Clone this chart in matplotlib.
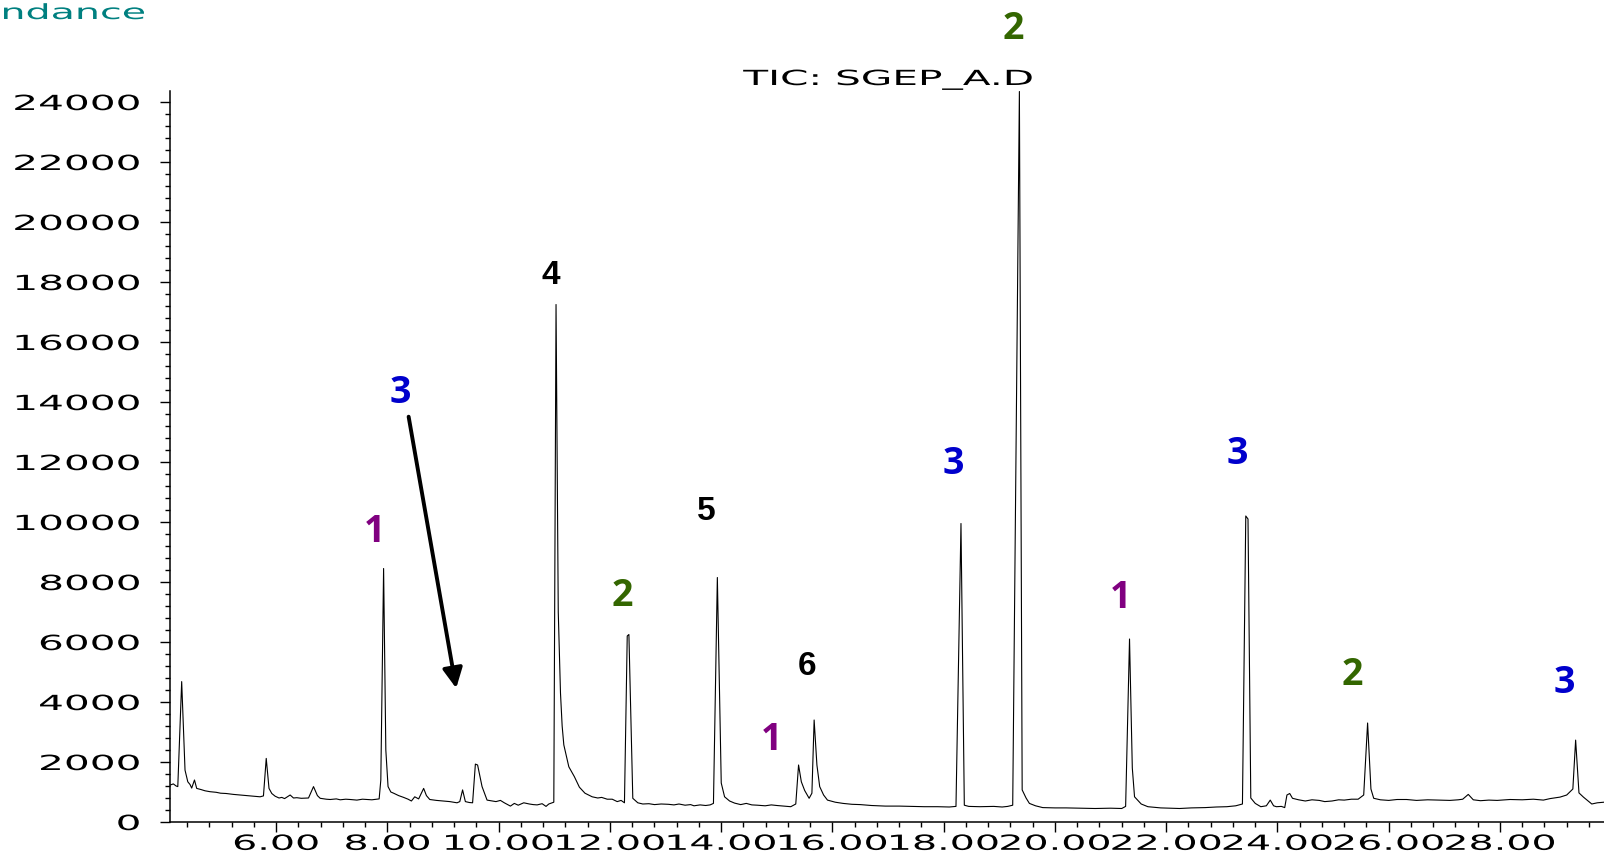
import matplotlib
matplotlib.use("Agg")
import matplotlib.pyplot as plt
from matplotlib.patheffects import AbstractPathEffect
from matplotlib.transforms import Affine2D
from matplotlib.ticker import MultipleLocator, FormatStrFormatter

# retention time (min) and abundance of the TIC trace
rt = [4.09, 4.15, 4.20, 4.23, 4.30, 4.36, 4.41, 4.45, 4.48, 4.53, 4.57, 4.65, 4.72, 4.81,
      4.92, 5.00, 5.10, 5.23, 5.35, 5.48, 5.60, 5.71, 5.77, 5.82, 5.87, 5.92, 5.98, 6.05,
      6.10, 6.15, 6.25, 6.31, 6.37, 6.45, 6.58, 6.67, 6.74, 6.79, 6.90, 6.97, 7.08, 7.15,
      7.25, 7.33, 7.45, 7.55, 7.63, 7.72, 7.80, 7.85, 7.88, 7.93, 7.97, 8.01, 8.06, 8.11,
      8.20, 8.29, 8.37, 8.43, 8.49, 8.56, 8.65, 8.70, 8.76, 8.88, 9.01, 9.12, 9.25, 9.30,
      9.35, 9.40, 9.47, 9.53, 9.58, 9.62, 9.70, 9.79, 9.88, 9.95, 10.03, 10.10, 10.21,
      10.28, 10.35, 10.45, 10.55, 10.62, 10.69, 10.78, 10.85, 10.90, 10.99, 11.03, 11.07,
      11.11, 11.14, 11.17, 11.26, 11.36, 11.45, 11.55, 11.68, 11.78, 11.85, 11.95, 12.04,
      12.13, 12.20, 12.26, 12.31, 12.34, 12.41, 12.50, 12.59, 12.70, 12.80, 12.92, 13.05,
      13.15, 13.24, 13.35, 13.45, 13.51, 13.62, 13.72, 13.80, 13.86, 13.93, 14.00, 14.06,
      14.15, 14.24, 14.35, 14.45, 14.55, 14.65, 14.79, 14.90, 15.00, 15.12, 15.25, 15.34,
      15.39, 15.44, 15.50, 15.58, 15.63, 15.67, 15.72, 15.77, 15.84, 15.91, 16.05, 16.19,
      16.35, 16.50, 16.70, 16.95, 17.20, 17.40, 17.65, 17.89, 18.10, 18.22, 18.31, 18.37,
      18.45, 18.65, 18.90, 19.05, 19.15, 19.24, 19.36, 19.41, 19.48, 19.54, 19.65, 19.78,
      20.00, 20.20, 20.45, 20.72, 21.00, 21.20, 21.27, 21.34, 21.39, 21.43, 21.55, 21.67,
      21.90, 22.10, 22.24, 22.45, 22.70, 22.90, 23.09, 23.25, 23.37, 23.43, 23.47, 23.52,
      23.60, 23.70, 23.80, 23.87, 23.93, 23.98, 24.07, 24.13, 24.17, 24.22, 24.27, 24.38,
      24.50, 24.62, 24.75, 24.85, 24.98, 25.10, 25.20, 25.33, 25.45, 25.55, 25.62, 25.68,
      25.73, 25.85, 26.00, 26.15, 26.32, 26.50, 26.70, 26.90, 27.10, 27.25, 27.33, 27.43,
      27.52, 27.65, 27.80, 27.95, 28.18, 28.40, 28.60, 28.78, 28.90, 29.08, 29.20, 29.27,
      29.31, 29.36, 29.42, 29.50, 29.65, 29.75, 29.87]
abund = [1230, 1270, 1200, 1180, 4680, 1730, 1340, 1250, 1130, 1400, 1120, 1080, 1040, 1010,
         990, 960, 950, 920, 900, 880, 860, 840, 870, 2120, 1120, 950, 860, 800,
         820, 780, 900, 800, 810, 790, 800, 1180, 880, 790, 760, 750, 770, 740,
         760, 750, 730, 760, 750, 740, 760, 770, 1400, 8450, 2400, 1180, 1000, 960,
         880, 820, 760, 700, 840, 770, 1120, 880, 750, 720, 700, 680, 640, 680,
         1070, 680, 650, 640, 1930, 1900, 1180, 730, 700, 680, 720, 640, 530,
         620, 560, 640, 600, 580, 570, 610, 520, 600, 660, 17250, 7000,
         4300, 3200, 2570, 1840, 1510, 1160, 960, 840, 800, 820, 760, 760,
         680, 720, 640, 6200, 6250, 790, 640, 600, 610, 580, 600, 590,
         570, 600, 560, 580, 540, 570, 550, 570, 620, 8150, 1300, 840,
         700, 630, 580, 620, 570, 560, 540, 570, 550, 530, 510, 600,
         1900, 1340, 1050, 790, 960, 3400, 1900, 1180, 900, 730, 660, 620,
         590, 580, 550, 530, 530, 520, 510, 510, 500, 520, 9950, 560,
         520, 510, 520, 500, 520, 560, 24350, 1070, 800, 620, 540, 480,
         470, 470, 460, 450, 460, 450, 520, 6100, 1800, 840, 600, 510,
         470, 460, 450, 470, 480, 500, 510, 540, 600, 10200, 10100, 800,
         620, 510, 540, 730, 540, 510, 520, 480, 900, 950, 790, 740,
         700, 740, 720, 680, 700, 740, 730, 760, 760, 900, 3300, 1100,
         790, 740, 720, 750, 750, 720, 740, 730, 720, 740, 760, 920,
         740, 710, 730, 720, 750, 740, 760, 730, 780, 830, 900, 1030,
         1100, 2730, 970, 830, 600, 640, 660]

# compound group numbers written above the peaks
peak_text = ["2", "4", "3", "1", "2", "5", "1", "6", "3", "1", "3", "2", "3"]
peak_text_rt = [19.25, 10.93, 8.23, 7.76, 12.22, 13.73, 14.90, 15.55, 18.17, 21.17, 23.27, 25.35, 29.16]
peak_text_y = [26110, 17950, 13960, 9340, 7190, 10080, 2410, 4900, 11590, 7120, 11930, 4560, 4290]
group_colors = {"1": "#800080", "2": "#336600", "3": "#0000CC",
                "4": "black", "5": "black", "6": "black"}


class WideText(AbstractPathEffect):
    """Draw glyph outlines widened horizontally, like an extended typeface."""

    def __init__(self, factor=1.9, anchor="center"):
        super().__init__()
        self.factor = factor
        self.anchor = anchor

    def draw_path(self, renderer, gc, tpath, affine, rgbFace=None):
        ext = tpath.get_extents()
        if self.anchor == "left":
            x0 = ext.x0
        elif self.anchor == "right":
            x0 = ext.x1
        else:
            x0 = 0.5 * (ext.x0 + ext.x1)
        widen = Affine2D().translate(-x0, 0).scale(self.factor, 1).translate(x0, 0)
        renderer.draw_path(gc, tpath, widen + affine, rgbFace)


W, H = 1604, 851
fig = plt.figure(figsize=(W / 100, H / 100), dpi=100)
ax = fig.add_axes([170 / W, 29 / H, 1 - 170 / W, 731.4 / H])

ax.plot(rt, abund, color="black", lw=0.8)
ax.set_xlim(4.09, 29.87)
ax.set_ylim(0, 24380)

ax.spines["top"].set_visible(False)
ax.spines["right"].set_visible(False)
ax.spines["left"].set_linewidth(1.1)
ax.spines["bottom"].set_linewidth(1.1)

ax.xaxis.set_major_locator(MultipleLocator(2))
ax.xaxis.set_minor_locator(MultipleLocator(0.4))
ax.yaxis.set_major_locator(MultipleLocator(2000))
ax.yaxis.set_minor_locator(MultipleLocator(400))
ax.xaxis.set_major_formatter(FormatStrFormatter("%.2f"))
ax.yaxis.set_major_formatter(FormatStrFormatter("%d"))
ax.tick_params(which="major", direction="out", length=7.5, width=1.0, labelsize=15)
ax.tick_params(which="minor", direction="out", length=3.8, width=1.0)
ax.tick_params(axis="y", which="major", pad=14)
ax.tick_params(axis="x", which="major", pad=1)

for lab in ax.get_yticklabels():
    lab.set_path_effects([WideText(1.95, "right")])
for lab in ax.get_xticklabels():
    lab.set_path_effects([WideText(1.9, "center")])

fig.text(888 / W, 1 - 85 / H, "TIC: SGEP_A.D", fontsize=15, ha="center", va="baseline",
         path_effects=[WideText(1.95, "center")])
fig.text(145 / W, 1 - 19 / H, "Abundance", fontsize=15, color="#008080", ha="right",
         va="baseline", path_effects=[WideText(1.9, "right")])

for s, x, y in zip(peak_text, peak_text_rt, peak_text_y):
    c = group_colors[s]
    if c == "black":
        ax.text(x, y, s, color=c, fontsize=24, fontweight="bold",
                family=["Liberation Sans", "DejaVu Sans"],
                ha="center", va="baseline", clip_on=False)
    else:
        ax.text(x, y, s, color=c, fontsize=27, fontweight="bold",
                family=["Open Sans", "DejaVu Sans"],
                ha="center", va="baseline", clip_on=False)

ax.annotate("", xy=(9.235, 4460), xytext=(8.38, 13510),
            arrowprops=dict(arrowstyle="-|>,head_length=0.6,head_width=0.3",
                            color="black", lw=2.8, mutation_scale=20, shrinkA=0, shrinkB=0))

fig.savefig("out.png", dpi=100)
